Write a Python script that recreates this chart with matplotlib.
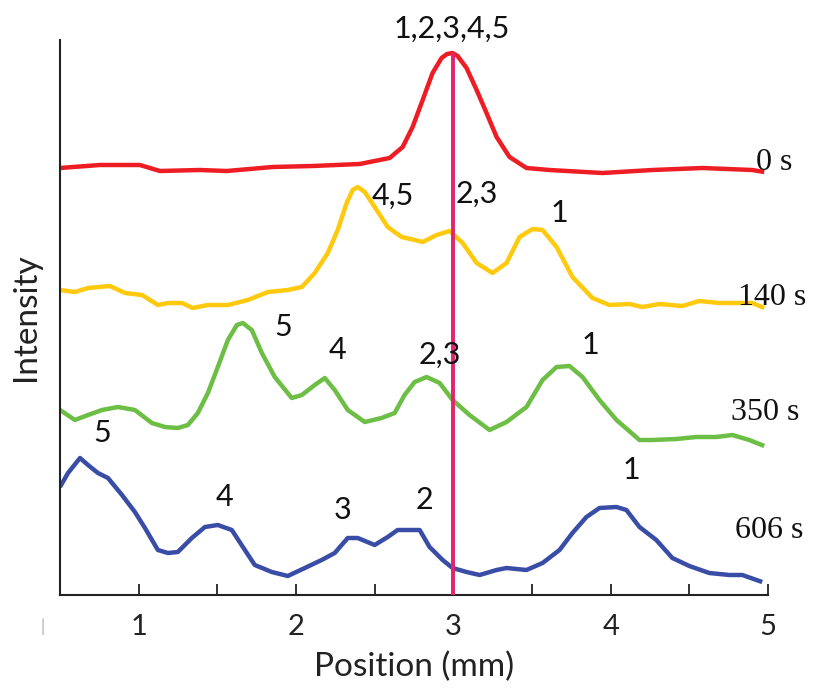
import matplotlib
matplotlib.use("Agg")
import matplotlib.pyplot as plt

# ---------------- data (position in mm, stacked intensity in a.u.) ----------------
x_0s = [0.500, 0.583, 0.754, 1.008, 1.135, 1.389, 1.560, 1.852, 2.106, 2.405, 2.468,
        2.595, 2.678, 2.741, 2.805, 2.868, 2.925, 2.960, 2.995, 3.027, 3.084, 3.148, 3.211,
        3.275, 3.357, 3.465, 3.611, 3.948, 4.265, 4.583, 4.900, 4.976]
y_0s = [4.27, 4.28, 4.30, 4.30, 4.24, 4.25, 4.24, 4.28, 4.29, 4.31, 4.33,
        4.37, 4.48, 4.68, 4.95, 5.22, 5.37, 5.41, 5.42, 5.39, 5.27, 5.05, 4.82,
        4.58, 4.38, 4.27, 4.25, 4.22, 4.25, 4.27, 4.25, 4.23]

x_140s = [0.500, 0.595, 0.678, 0.817, 0.913, 1.021, 1.122, 1.186, 1.275, 1.344,
          1.440, 1.567, 1.694, 1.821, 1.948, 2.037, 2.119, 2.202, 2.265, 2.322,
          2.360, 2.392, 2.437, 2.500, 2.583, 2.671, 2.754, 2.805, 2.894, 2.976,
          3.059, 3.148, 3.249, 3.338, 3.421, 3.503, 3.567, 3.656, 3.757, 3.884,
          3.992, 4.119, 4.202, 4.310, 4.456, 4.563, 4.690, 4.798, 4.900, 4.976]
y_140s = [3.05, 3.03, 3.07, 3.09, 3.02, 3.00, 2.90, 2.92, 2.92, 2.87,
          2.90, 2.90, 2.95, 3.03, 3.05, 3.08, 3.22, 3.42, 3.65, 3.92,
          4.05, 4.08, 4.03, 3.88, 3.68, 3.58, 3.55, 3.53, 3.60, 3.64,
          3.52, 3.32, 3.22, 3.32, 3.58, 3.66, 3.65, 3.48, 3.18, 2.97,
          2.90, 2.91, 2.88, 2.91, 2.89, 2.94, 2.92, 2.92, 2.92, 2.87]

x_350s = [0.500, 0.595, 0.678, 0.767, 0.868, 0.976, 1.084, 1.167, 1.249, 1.313,
          1.376, 1.440, 1.503, 1.567, 1.624, 1.662, 1.719, 1.783, 1.865, 1.973,
          2.037, 2.119, 2.183, 2.246, 2.329, 2.437, 2.544, 2.627, 2.690, 2.754,
          2.830, 2.913, 2.995, 3.103, 3.230, 3.338, 3.465, 3.567, 3.656, 3.738,
          3.821, 3.929, 4.037, 4.183, 4.265, 4.417, 4.544, 4.671, 4.773, 4.881, 4.976]
y_350s = [1.85, 1.75, 1.80, 1.85, 1.88, 1.85, 1.72, 1.68, 1.67, 1.70,
          1.82, 2.02, 2.28, 2.55, 2.70, 2.72, 2.65, 2.42, 2.18, 1.97,
          2.00, 2.10, 2.17, 2.05, 1.85, 1.73, 1.77, 1.82, 2.00, 2.13,
          2.18, 2.12, 1.95, 1.80, 1.65, 1.73, 1.88, 2.15, 2.28, 2.29,
          2.18, 1.95, 1.75, 1.55, 1.55, 1.56, 1.58, 1.58, 1.60, 1.55, 1.49]

x_606s = [0.500, 0.551, 0.627, 0.678, 0.741, 0.805, 0.894, 0.976, 1.040, 1.122,
          1.186, 1.249, 1.338, 1.421, 1.503, 1.592, 1.675, 1.738, 1.846, 1.948,
          2.056, 2.163, 2.246, 2.329, 2.392, 2.500, 2.583, 2.646, 2.722, 2.786,
          2.849, 2.932, 2.995, 3.084, 3.167, 3.275, 3.338, 3.465, 3.567, 3.675,
          3.757, 3.846, 3.929, 4.037, 4.100, 4.183, 4.290, 4.392, 4.500, 4.627,
          4.754, 4.837, 4.963]
y_606s = [1.08, 1.22, 1.37, 1.30, 1.22, 1.17, 1.00, 0.83, 0.67, 0.45,
          0.42, 0.43, 0.57, 0.68, 0.70, 0.65, 0.45, 0.30, 0.23, 0.19,
          0.27, 0.35, 0.42, 0.57, 0.57, 0.50, 0.58, 0.65, 0.65, 0.65,
          0.48, 0.35, 0.27, 0.23, 0.20, 0.25, 0.27, 0.25, 0.32, 0.45,
          0.62, 0.78, 0.87, 0.88, 0.85, 0.68, 0.55, 0.37, 0.29, 0.22,
          0.20, 0.20, 0.13]

time_labels = ["0 s", "140 s", "350 s", "606 s"]
time_label_x = [4.925, 4.81, 4.767, 4.79]
time_label_y = [4.33, 2.97, 1.83, 0.65]

peak_labels = ["1,2,3,4,5", "4,5", "2,3", "1", "5", "4", "2,3", "1", "5", "4", "3", "2", "1"]
peak_x = [2.99, 2.614, 3.148, 3.675, 1.916, 2.265, 2.913, 3.871, 0.767, 1.548, 2.297, 2.817, 4.132]
peak_y = [5.66, 3.99, 4.01, 3.82, 2.68, 2.45, 2.40, 2.50, 1.62, 0.98, 0.85, 0.95, 1.25]

marker_x = 3.0
marker_top = 5.42

x_ticks = [1, 1.5, 2, 2.5, 3, 3.5, 4, 4.5, 5]
x_tick_labels = ["1", "", "2", "", "3", "", "4", "", "5"]

colors = ["#EE1D24", "#FFC90E", "#6CBE45", "#3A4DA6"]
marker_color = "#E2246E"

# ---------------- figure ----------------
sans = "Lato"
serif = "Liberation Serif"

fig = plt.figure(figsize=(8.2, 6.92), dpi=100)
ax = fig.add_axes([60 / 820, 1 - 595 / 692, 708 / 820, 555 / 692])

for xs, ys, c in zip([x_0s, x_140s, x_350s, x_606s], [y_0s, y_140s, y_350s, y_606s], colors):
    ax.plot(xs, ys, color=c, lw=3.2, solid_joinstyle="round", solid_capstyle="butt", zorder=2)

ax.plot([marker_x, marker_x], [0, marker_top], color=marker_color, lw=2.8, zorder=3,
        solid_capstyle="butt")

ax.set_xlim(0.5, 5)
ax.set_ylim(0, 5.55)

for sp in ["top", "right"]:
    ax.spines[sp].set_visible(False)
for sp in ["left", "bottom"]:
    ax.spines[sp].set_linewidth(1.5)
    ax.spines[sp].set_color("#222222")

ax.set_yticks([])
ax.set_xticks(x_ticks)
ax.set_xticklabels(x_tick_labels, fontfamily=sans, fontsize=21)
ax.tick_params(axis="x", direction="in", length=8, width=1.3, pad=14, colors="#222222")

ax.set_xlabel("Position (mm)", fontfamily=sans, fontsize=24, labelpad=8, color="#222222")
ax.set_ylabel("Intensity", fontfamily=sans, fontsize=24, labelpad=14, color="#222222")

for t, tx, ty in zip(time_labels, time_label_x, time_label_y):
    ax.text(tx, ty, t, fontfamily=serif, fontsize=23, ha="left", va="center",
            color="#111111", clip_on=False, zorder=4)

for t, tx, ty in zip(peak_labels, peak_x, peak_y):
    ax.text(tx, ty, t, fontfamily=sans, fontsize=22, ha="center", va="center",
            color="#111111", clip_on=False, zorder=4)

fig.text(43 / 820, 1 - 627 / 692, "|", fontfamily=sans, fontsize=12, color="#aaaaaa",
         ha="center", va="center")

fig.savefig("out.png", dpi=100, facecolor="white")
